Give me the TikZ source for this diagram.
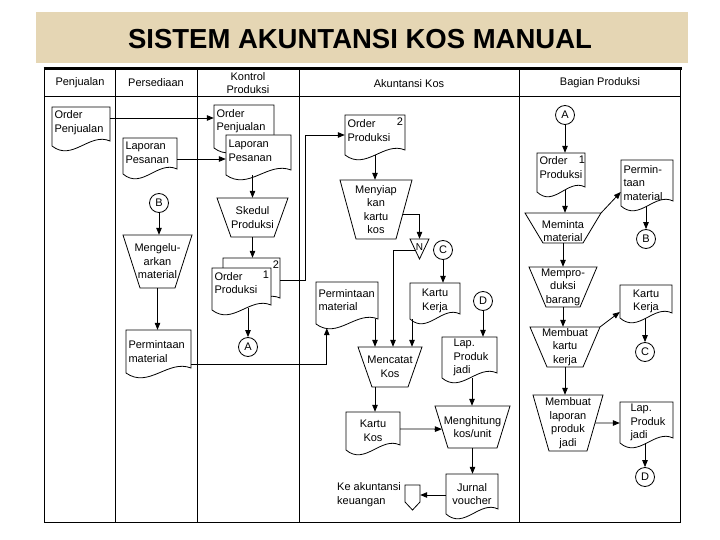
\documentclass[tikz,border=0pt]{standalone}
\usepackage{fontspec}
\setmainfont{Liberation Sans}
\usetikzlibrary{arrows.meta,calc}
\definecolor{parch}{RGB}{229,214,180}
\tikzset{
 lane/.style={line width=1pt},
 shp/.style={line width=0.8pt, line join=miter},
 txt/.style={inner sep=0pt, font=\fontsize{11}{13.5}\selectfont},
 box/.style={txt, draw=none, rectangle, inner xsep=2.5pt},
 conn/.style={circle, draw, line width=0.8pt, minimum size=19pt, inner sep=0pt, font=\fontsize{11}{13}\selectfont},
 arr/.style={line width=0.8pt, -{Triangle[length=7pt,width=5.5pt]}},
}
% document symbol: name, x1, y1, x2, y2 (left bottom corner), align, text
\newcommand\docn[7]{%
 \filldraw[shp, fill=white] ({#2},{#3}) -- ({#4},{#3}) -- ({#4},{#5-5})
   .. controls ({#2+0.65*(#4-#2)},{#5-14}) and ({#2+0.35*(#4-#2)},{#5+16}) .. ({#2},{#5}) -- cycle;
 \pgfmathsetmacro\mydw{#4-#2}\pgfmathsetmacro\mydh{#5-#3}\pgfmathsetmacro\mytw{#4-#2-5}%
 \node[box, minimum width=\mydw pt, minimum height=\mydh pt, text width=\mytw pt, align=#6] (#1) at ({(#2+#4)/2},{(#3+#5)/2}) {#7};
}
% manual operation: name, x1, y1, x2, y2, inset, text
\newcommand\trapn[7]{%
 \filldraw[shp, fill=white] ({#2},{#3}) -- ({#4},{#3}) -- ({#4-#6},{#5}) -- ({#2+#6},{#5}) -- cycle;
 \pgfmathsetmacro\mydw{#4-#2}\pgfmathsetmacro\mydh{#5-#3}%
 \node[box, minimum width=\mydw pt, minimum height=\mydh pt, align=center] (#1) at ({(#2+#4)/2},{(#3+#5)/2}) {#7};
}
\newcommand\ds[1]{\rule[-#1pt]{0pt}{1pt}}
\newcommand\us[1]{\rule{0pt}{#1pt}}
\begin{document}
\begin{tikzpicture}[x=1pt,y=-1pt]
\useasboundingbox (0,0) rectangle (720,540);
\fill[parch] (36,12) rectangle (688,63);
\node[inner sep=0pt, font=\bfseries\fontsize{27.5}{30}\selectfont] (title) at (360,39) {SISTEM AKUNTANSI KOS MANUAL};

% frame and lanes
\draw[lane] (44.5,68.5) rectangle (680.5,522);
\draw[line width=2.5pt] (43.5,68.5) -- (681.5,68.5);
\draw[lane] (44.5,97) -- (680.5,97);
\foreach \xx in {115,197,299,519} \draw[lane] (\xx,68.5) -- (\xx,522);

\node[txt] (hpj) at (80,83) {Penjualan};
\node[txt] (hps) at (156,83) {Persediaan};
\node[txt, align=center] (hkp) at (248,83) {Kontrol\\Produksi};
\node[txt] (hak) at (409,84) {Akuntansi Kos};
\node[txt] (hbp) at (600,83) {Bagian Produksi};

% Penjualan
\docn{opj}{52}{107}{110}{146}{left}{Order\\Penjualan\ds{10}}

% Persediaan
\docn{lps}{123}{138}{177}{174}{left}{Laporan\\Pesanan\ds{6.5}}
\node[conn] (B1) at (159,203) {B};
\trapn{mgl}{123}{235}{192}{288}{17}{Mengelu-\\arkan\\material}
\docn{pm1}{126}{330}{191}{373}{left}{Permintaan\\material}

% Kontrol Produksi
\docn{opk}{214}{105}{274}{148}{left}{Order\\Penjualan\ds{13}}
\docn{lpk}{226}{135}{291}{175}{left}{Laporan\\Pesanan\ds{8.5}}
\trapn{skd}{217}{198}{288}{237}{14}{Skedul\\Produksi}
\docn{opb}{223}{258}{280}{303}{left}{}
\docn{opf}{212}{268}{271}{310}{left}{Order\\Produksi\ds{12}}
\node[txt] (n2k) at (276,265) {2};
\node[txt] (n1k) at (266,275) {1};
\node[conn] (A1) at (248,347) {A};

% Akuntansi Kos
\docn{op2}{345}{115}{405}{155}{left}{Order\\Produksi\ds{9}}
\node[txt] (n2a) at (400,122) {2};
\trapn{mkk}{340}{180}{412}{239}{16}{Menyiap\\kan\\kartu\\kos}
\filldraw[shp, fill=white] (410,239) -- (429,239) -- (419.5,259) -- cycle;
\node[txt, minimum width=19pt, minimum height=20pt, font=\fontsize{10}{12}\selectfont] (nf) at (419.5,249) {\raisebox{3pt}{N}};
\node[conn] (C1) at (443,250) {C};
\docn{pm2}{316}{282}{378}{324}{left}{Permintaan\\material\ds{6}}
\docn{kk1}{410}{283}{460}{319}{center}{Kartu\\Kerja}
\node[conn] (D1) at (483,301) {D};
\docn{lpj1}{442}{337}{497}{378}{left}{\hspace*{9pt}Lap.\\\hspace*{9pt}Produk\\\hspace*{9pt}jadi}
\trapn{mk}{358}{347}{422}{387}{14}{Mencatat\\Kos}
\docn{kkos}{346}{412}{400}{450}{center}{Kartu\\Kos}
\trapn{mhg}{435}{406}{510}{448}{13}{Menghitung\\kos/unit}
\docn{jv}{446}{474}{498}{514}{center}{Jurnal\\voucher}
\filldraw[shp, fill=white] (405,485) -- (420,485) -- (420,502) -- (412.5,510) -- (405,502) -- cycle;
\node[box, minimum width=15pt, minimum height=25pt] (off) at (412.5,497.5) {};
\node[txt, align=left, anchor=west] (ket) at (337,494.5) {Ke akuntansi\\keuangan};

% Bagian Produksi
\node[conn] (A2) at (565,115) {A};
\docn{op1}{537}{153}{585}{192}{left}{Order\\Produksi\ds{10}}
\node[txt] (n1b) at (582,160) {1};
\trapn{mm}{525}{213}{601}{243}{18}{\us{14}Meminta\\material}
\docn{pm3}{621}{160}{673}{206}{left}{Permin-\\taan\\material}
\node[conn] (B2) at (646,239) {B};
\trapn{mpb}{529}{267}{597}{307}{17}{Mempro-\\duksi\\barang}
\trapn{mkkj}{530}{327}{600}{367}{17}{Membuat\\kartu\\kerja}
\docn{kk2}{620}{285}{672}{318}{center}{Kartu\\Kerja}
\node[conn] (C2) at (645,352) {C};
\trapn{mlpj}{533}{395}{603}{451}{16}{Membuat\\laporan\\produk\\jadi}
\docn{lpj2}{620}{402}{673}{443}{left}{\hspace*{8pt}Lap.\\\hspace*{8pt}Produk\\\hspace*{8pt}jadi}
\node[conn] (D2) at (645,477) {D};

% connectors
\draw[arr] (opj.east |- 0,118) -- (opk.west |- 0,118);
\draw[arr] (lps.east |- 0,159) -- (lpk.west |- 0,159);
\draw[arr] (skd.north |- lpk.south) -- (skd.north);
\draw[arr] (skd.south) -- (skd.south |- opb.north);
\draw[arr] (opb.east |- 0,280) -- ++(25,0) |- (op2.west |- 0,135);
\draw[arr] ($(A1.north |- opf.south)+(0pt,2.5pt)$) -- (A1.north);
\draw[arr] (B1.south) -- (B1.south |- mgl.north);
\draw[arr] (mgl.south) -- (mgl.south |- pm1.north);
\draw[arr] (pm1.east |- 0,364) -| ($(pm2.south west)+(11pt,-4pt)$);

\draw[arr] (op2.south) -- (op2.south |- mkk.north);
\draw[arr] ($(mkk.north east)!0.58!([xshift=-16pt]mkk.south east)$) -| (nf.north);
\draw[arr] ($(nf.north west)!0.55!(nf.south)$) -| (mk.north -| 393,0);
\draw[arr] (C1.south) -- (C1.south |- kk1.north);
\draw[arr] (kk1.south -| 412,0) -- (mk.north -| 412,0);
\draw[arr] ($(pm2.south -| 375,0)+(0pt,5.5pt)$) -- (mk.north -| 375,0);
\draw[arr] (D1.south) -- (D1.south |- lpj1.north);
\draw[arr] (lpj1.south -| 472,0) -- (mhg.north -| 472,0);
\draw[arr] (mk.south -| 375,0) -- (kkos.north -| 375,0);
\draw[arr] (kkos.east |- 0,429) -- ($(mhg.north west)!0.55!([xshift=13pt]mhg.south west)$);
\draw[arr] (mhg.south) -- (mhg.south |- jv.north);
\draw[arr] (jv.west |- 0,495) -- (off.east |- 0,495);

\draw[arr] (A2.south) -- (A2.south |- op1.north);
\draw[arr] ($(op1.south -| A2.south)+(0pt,2pt)$) -- (mm.north -| A2.south);
\draw[arr] (mm.north east) -- (pm3.west |- 0,192);
\draw[arr] (B2.north |- pm3.south) -- (B2.north);
\draw[arr] (mm.south) -- (mm.south |- mpb.north);
\draw[arr] (mpb.south) -- (mpb.south |- mkkj.north);
\draw[arr] (mkkj.north east) -- (kk2.west |- 0,312);
\draw[arr] (kk2.south -| C2.north) -- (C2.north);
\draw[arr] (mkkj.south) -- (mkkj.south |- mlpj.north);
\draw[arr] ($(mlpj.north east)!0.5!([xshift=-16pt]mlpj.south east)$) -- (lpj2.west |- 0,423);
\draw[arr] (lpj2.south -| D2.north) -- (D2.north);
\end{tikzpicture}
\end{document}
